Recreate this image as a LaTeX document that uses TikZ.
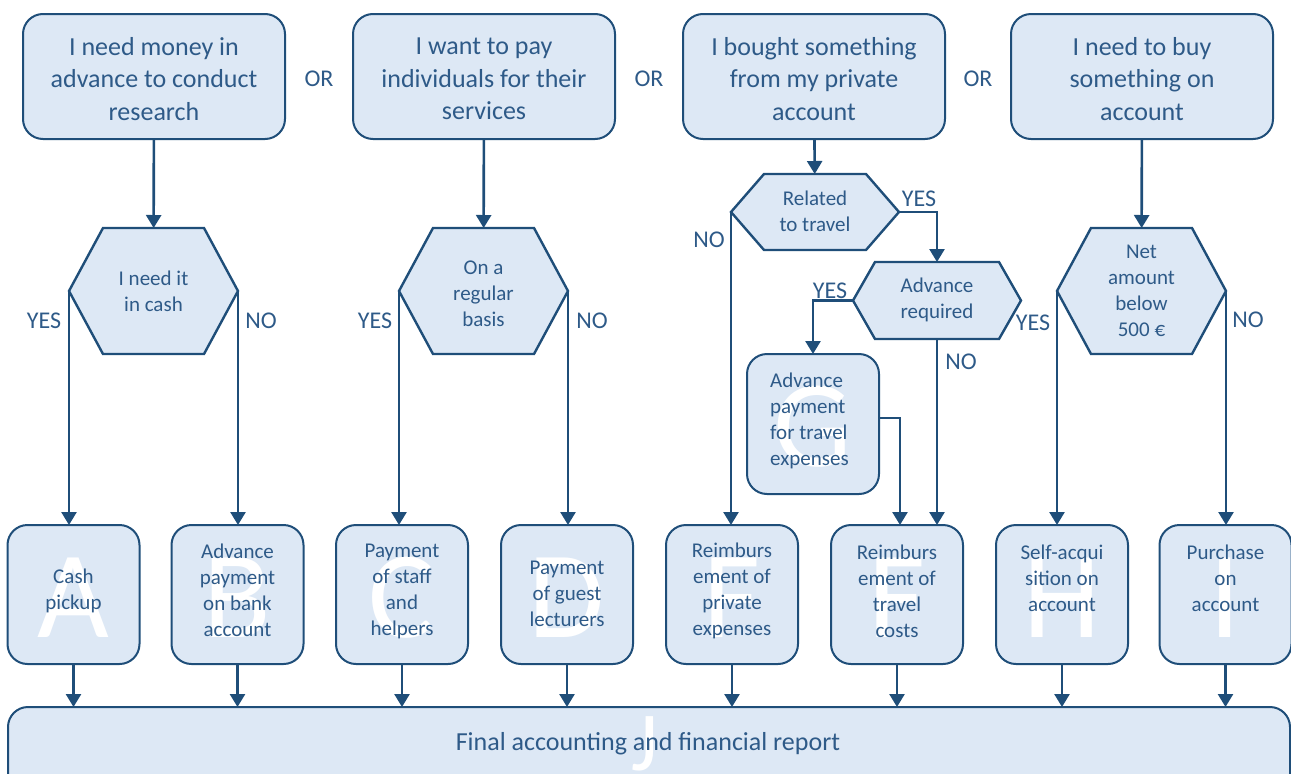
\documentclass[tikz,border=0pt]{standalone}
\usepackage{fontspec}
\setmainfont{Carlito}
\usetikzlibrary{arrows.meta,backgrounds,calc}
\definecolor{lnc}{HTML}{1F4E79}
\definecolor{txc}{HTML}{2E5A88}
\definecolor{fl}{HTML}{DDE8F5}
\newcommand\ftop{\fontsize{26}{32.5}\selectfont}
\newcommand\fsmall{\fontsize{21}{26}\selectfont}
\newcommand\flab{\fontsize{24}{28}\selectfont}
\newcommand\fletter{\fontsize{124}{130}\selectfont}
\newcommand\fletterJ{\fontsize{84}{90}\selectfont}
\tikzset{
  box/.style={draw=lnc, line width=2pt, fill=fl, rounded corners=20pt, inner sep=0pt, outer sep=0pt},
  hexs/.style={draw=lnc, line width=2.4pt, fill=fl, line join=miter},
  hext/.style={text=txc, font=\fsmall, align=center, inner sep=0pt, outer sep=0pt},
  ttext/.style={text=txc, font=\ftop, align=center, inner sep=0pt},
  btext/.style={text=txc, font=\fsmall, align=center, inner sep=0pt},
  lab/.style={text=txc, font=\flab, inner sep=0pt},
  bigl/.style={text=white, font=\fletter, inner sep=0pt},
  arr/.style={draw=lnc, line width=2.6pt, -{Triangle[width=15pt,length=13pt]}},
}
\newcommand\myhex[7]{%
  \node[hext, minimum width=#4, minimum height=#5] (#1) at (#2,#3) {};
  \begin{pgfonlayer}{background}
  \draw[hexs] (#1.west) -- ([xshift=#6]#1.north west) -- ([xshift=-#6]#1.north east) -- (#1.east) -- ([xshift=-#6]#1.south east) -- ([xshift=#6]#1.south west) -- cycle;
  \end{pgfonlayer}
  \node[hext] (#1T) at (#2,#7)}
\newcommand\bbox[6]{%
  \node[box, minimum width=132, minimum height=139] (#1) at (#2,594.5) {};
  \node[bigl, anchor=base] (#1L) at (#2,637) {#3};
  \node[btext] (#4) at (#2,#5) {#6};}
\begin{document}
\begin{tikzpicture}[x=1pt,y=-1pt]
\useasboundingbox (0,0) rectangle (1291,774);
% top boxes
\node[box, minimum width=262, minimum height=125] (t1) at (154,76.5) {};
\node[ttext] (t1T) at (154,79) {I need money in\\advance to conduct\\research};
\node[box, minimum width=262, minimum height=125] (t2) at (484,76.5) {};
\node[ttext] (t2T) at (484,79) {I want to pay\\individuals for their\\services};
\node[box, minimum width=262, minimum height=125] (t3) at (814,76.5) {};
\node[ttext] (t3T) at (814,79) {I bought something\\from my private\\account};
\node[box, minimum width=262, minimum height=125] (t4) at (1142,76.5) {};
\node[ttext] (t4T) at (1142,79) {I need to buy\\something on\\account};
\node[lab] (or1) at (319,79) {OR};
\node[lab] (or2) at (649,79) {OR};
\node[lab] (or3) at (978,79) {OR};
% hexagons
\myhex{h1}{153.5}{291}{169}{126}{34}{291}{I need it\\in cash};
\myhex{h2}{483.5}{291}{169}{126}{34}{294}{On a\\regular\\basis};
\myhex{hR}{815}{212}{168}{76}{33}{211}{Related\\to travel};
\myhex{hA}{937}{300.5}{168}{77}{22}{300}{Advance\\required};
\myhex{h4}{1141.5}{291}{169}{126}{34}{291}{Net\\amount\\below\\500 €};
% bottom boxes
\bbox{bA}{73.5}{A}{bAT}{591}{Cash\\pickup}
\bbox{bB}{237.5}{B}{bBT}{590}{Advance\\payment\\on bank\\account}
\bbox{bC}{402}{C}{bCT}{591}{Payment\\of staff\\and\\helpers}
\bbox{bD}{567}{D}{bDT}{594}{Payment\\of guest\\lecturers}
\bbox{bE}{732}{F}{bET}{591}{Reimburs\\ement of\\private\\expenses}
\bbox{bF}{897}{F}{bFT}{591}{Reimburs\\ement of\\travel\\costs}
\bbox{bH}{1062}{H}{bHT}{578}{Self-acqui\\sition on\\account}
\bbox{bI}{1225.5}{I}{bIT}{578}{Purchase\\on\\account}
% box G
\node[box, minimum width=132, minimum height=140] (bG) at (813,424) {};
\node[bigl, anchor=base] (bGL) at (813,466) {G};
\node[btext, align=left, anchor=west] (bGT) at (770,421) {Advance\\payment\\for travel\\expenses};
% box J
\node[box, minimum width=1282, minimum height=106, anchor=north west] (bJ) at (8,707) {};
\node[bigl, font=\fletterJ, anchor=base] (bJL) at (645,770) {J};
\node[ttext] (bJT) at (648,744) {Final accounting and financial report};
% connectors
\draw[arr] (t1) -- (h1);
\draw[arr] (t2) -- (h2);
\draw[arr] (t3) -- (hR);
\draw[arr] (t4) -- (h4);
\draw[arr] (h1.west) -- (h1.west |- bA.north);
\draw[arr] (h1.east) -- (h1.east |- bB.north);
\draw[arr] (h2.west) -- (h2.west |- bC.north);
\draw[arr] (h2.east) -- (h2.east |- bD.north);
\draw[arr] (hR.west) -- (hR.west |- bE.north);
\draw[arr] (hR.east) -| (hA.north);
\draw[arr] (hA.west) -| (bG.north);
\draw[arr] (hA.south) -- (hA.south |- bF.north);
\draw[arr] ([yshift=6pt]bG.east) -| ([xshift=3pt]bF.north);
\draw[arr] (h4.west) -- (h4.west |- bH.north);
\draw[arr] (h4.east) -- (h4.east |- bI.north);
\foreach \b in {bA,bB,bC,bD,bE,bF,bH,bI}{\draw[arr] (\b.south) -- (\b.south |- bJ.north);}
% labels
\node[lab] (y1) at (44,321) {YES};
\node[lab] (n1) at (261,321) {NO};
\node[lab] (y2) at (375,321) {YES};
\node[lab] (n2) at (592,321) {NO};
\node[lab] (yR) at (919,199) {YES};
\node[lab] (nR) at (709,240) {NO};
\node[lab] (yA) at (830,291) {YES};
\node[lab] (nA) at (961,362) {NO};
\node[lab] (y4) at (1033,323) {YES};
\node[lab] (n4) at (1248,320) {NO};
\end{tikzpicture}
\end{document}
